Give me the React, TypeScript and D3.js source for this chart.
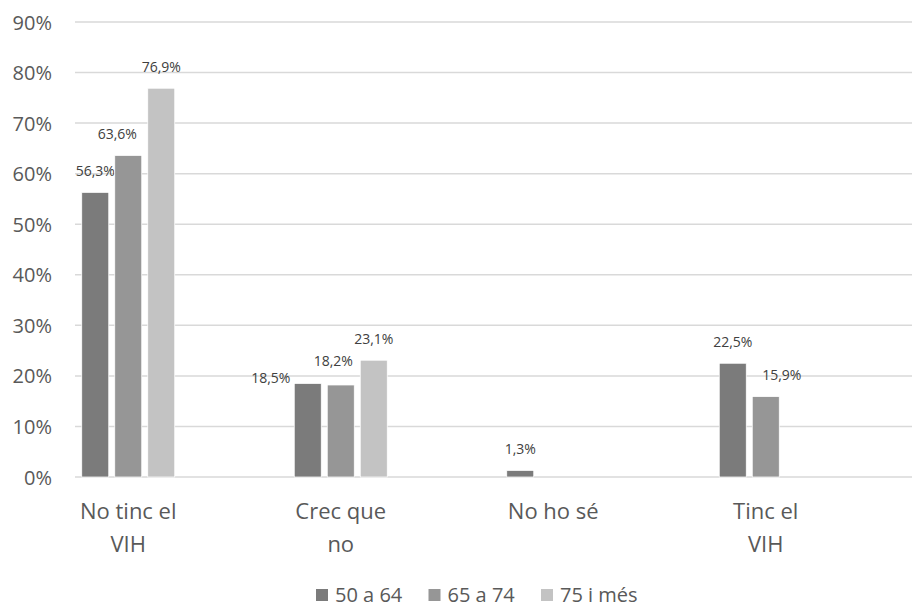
import { useRef, useEffect } from "react";
import * as d3 from "d3";

const categories: string[][] = [["No tinc el", "VIH"], ["Crec que", "no"], ["No ho sé"], ["Tinc el", "VIH"]];
const seriesNames = ["50 a 64", "65 a 74", "75 i més"];
const serie1 = [56.3, 18.5, 1.3, 22.5];
const serie2 = [63.6, 18.2, 0, 15.9];
const serie3 = [76.9, 23.1, 0, 0];
const yTicks = [0, 10, 20, 30, 40, 50, 60, 70, 80, 90];
const colors = ["#7b7b7b", "#969696", "#c3c3c3"];

// labels moved by hand in the original, [series][category] -> [dx, dy]
const labelNudge: number[][][] = [
  [[0, 0], [-37, 16.5], [0, 0], [0, 0]],
  [[-11, 0], [-7.5, -2.5], [0, 0], [16, 0]],
  [[0, 0], [0, 0], [0, 0], [0, 0]],
];

const width = 912;
const height = 607;
const font = "'Open Sans', sans-serif";

const App = () => {
  const svgRef = useRef<SVGSVGElement>(null);

  useEffect(() => {
    const svg: any = d3.select(svgRef.current);
    svg.selectAll("*").remove();

    const values = [serie1, serie2, serie3];
    const catIdx = categories.map((_, i) => String(i));

    const y = d3.scaleLinear().domain([0, 90]).range([477, 22]);
    const x0 = d3.scaleBand().domain(catIdx).range([22, 872]);
    const x1 = d3.scaleBand().domain(seriesNames).range([-46.5, 46.5]).paddingInner(6 / 33);

    // gridlines
    svg.append("g")
      .selectAll("line")
      .data(yTicks)
      .join("line")
      .attr("x1", 75)
      .attr("x2", width)
      .attr("y1", (d: number) => y(d))
      .attr("y2", (d: number) => y(d))
      .attr("stroke", "#d9d9d9")
      .attr("stroke-width", 1.5);

    // y labels
    svg.append("g")
      .selectAll("text")
      .data(yTicks)
      .join("text")
      .attr("x", 52)
      .attr("y", (d: number) => y(d) + 7.5)
      .attr("text-anchor", "end")
      .attr("font-family", font)
      .attr("font-size", 20)
      .attr("fill", "#595959")
      .text((d: number) => d + "%");

    // bars
    values.forEach((vals, s) => {
      const g = svg.append("g");
      g.selectAll("rect")
        .data(vals.map((v, i) => ({ v, i })).filter((d) => d.v > 0))
        .join("rect")
        .attr("x", (d: any) => (x0(String(d.i)) as number) + x0.bandwidth() / 2 + (x1(seriesNames[s]) as number))
        .attr("y", (d: any) => y(d.v))
        .attr("width", x1.bandwidth())
        .attr("height", (d: any) => y(0) - y(d.v))
        .attr("fill", colors[s])
        .attr("stroke", "#ffffff")
        .attr("stroke-width", 0.75);

      g.selectAll("text")
        .data(vals.map((v, i) => ({ v, i })).filter((d) => d.v > 0))
        .join("text")
        .attr("x", (d: any) => (x0(String(d.i)) as number) + x0.bandwidth() / 2 + (x1(seriesNames[s]) as number) + x1.bandwidth() / 2 + labelNudge[s][d.i][0])
        .attr("y", (d: any) => y(d.v) - 16.5 + labelNudge[s][d.i][1])
        .attr("text-anchor", "middle")
        .attr("font-family", font)
        .attr("font-size", 14)
        .attr("fill", "#404040")
        .text((d: any) => d.v.toFixed(1).replace(".", ",") + "%");
    });

    // category labels
    const cat = svg.append("g")
      .selectAll("text")
      .data(categories)
      .join("text")
      .attr("x", (_: any, i: number) => (x0(String(i)) as number) + x0.bandwidth() / 2)
      .attr("y", 519)
      .attr("text-anchor", "middle")
      .attr("font-family", font)
      .attr("font-size", 22)
      .attr("fill", "#595959");
    cat.selectAll("tspan")
      .data((d: string[]) => d)
      .join("tspan")
      .attr("x", function (this: any) { return this.parentNode.getAttribute("x"); })
      .attr("dy", (_: any, j: number) => (j === 0 ? 0 : 33))
      .text((d: string) => d);

    // legend
    const leg = svg.append("g")
      .selectAll("g")
      .data(seriesNames)
      .join("g")
      .attr("transform", (_: any, i: number) => `translate(${316 + i * 112.5},0)`);
    leg.append("rect")
      .attr("x", 0)
      .attr("y", 589)
      .attr("width", 12)
      .attr("height", 12)
      .attr("fill", (_: any, i: number) => colors[i]);
    leg.append("text")
      .attr("x", 19)
      .attr("y", 602)
      .attr("font-family", font)
      .attr("font-size", 20)
      .attr("fill", "#595959")
      .text((d: string) => d);
  }, []);

  return (
    <svg
      ref={svgRef}
      width={width}
      height={height}
      style={{ position: "absolute", left: 0, top: 0, background: "#ffffff" }}
    />
  );
};

export default App;
